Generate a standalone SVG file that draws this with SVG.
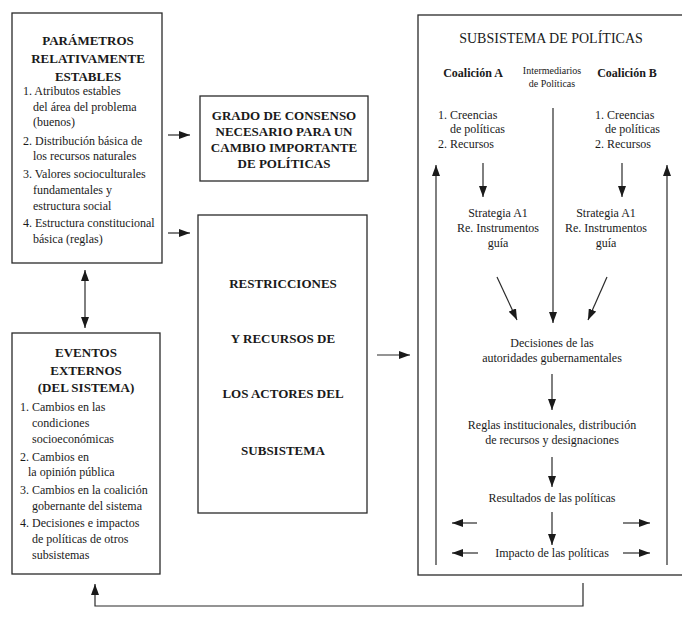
<svg xmlns="http://www.w3.org/2000/svg" width="682" height="632" viewBox="0 0 682 632">
<defs>
<marker id="ah" viewBox="0 0 11 8" refX="11" refY="4" markerWidth="11" markerHeight="8" markerUnits="userSpaceOnUse" orient="auto-start-reverse">
<path d="M0,0 L11,4 L0,8 z" fill="#1a1a1a"/>
</marker>
<style>
.box{fill:#fff;stroke:#2a2a2a;stroke-width:1.3}
.t{font-family:"Liberation Serif","Times New Roman",serif;fill:#1a1a1a}
.h{font-size:13px;font-weight:bold;text-anchor:middle}
.l{font-size:12px}
.m{font-size:12px;text-anchor:middle}
.s{font-size:10px;text-anchor:middle}
.c{stroke:#2a2a2a;stroke-width:1.2;fill:none}
.a{marker-end:url(#ah)}
</style>
</defs>
<rect width="682" height="632" fill="#fff"/>

<g id="parametros">
<rect class="box" x="12" y="13" width="150" height="250"/>
<text class="t h" x="88" y="44.5">PARÁMETROS</text>
<text class="t h" x="88" y="62.5">RELATIVAMENTE</text>
<text class="t h" x="88" y="80.5">ESTABLES</text>
<text class="t l" x="23" y="95">1. Atributos estables</text>
<text class="t l" x="33" y="111">del área del problema</text>
<text class="t l" x="33" y="126">(buenos)</text>
<text class="t l" x="23" y="145">2. Distribución básica de</text>
<text class="t l" x="33" y="160">los recursos naturales</text>
<text class="t l" x="23" y="178">3. Valores socioculturales</text>
<text class="t l" x="33" y="194">fundamentales y</text>
<text class="t l" x="33" y="210">estructura social</text>
<text class="t l" x="23" y="227">4. Estructura constitucional</text>
<text class="t l" x="33" y="243">básica (reglas)</text>
</g>

<g id="eventos">
<rect class="box" x="12" y="333" width="148" height="241"/>
<text class="t h" x="86" y="357">EVENTOS</text>
<text class="t h" x="86" y="375">EXTERNOS</text>
<text class="t h" x="86" y="392">(DEL SISTEMA)</text>
<text class="t l" x="20" y="411">1. Cambios en las</text>
<text class="t l" x="32" y="427">condiciones</text>
<text class="t l" x="32" y="443">socioeconómicas</text>
<text class="t l" x="20" y="461">2. Cambios en</text>
<text class="t l" x="28" y="476">la opinión pública</text>
<text class="t l" x="20" y="494">3. Cambios en la coalición</text>
<text class="t l" x="32" y="510">gobernante del sistema</text>
<text class="t l" x="20" y="527">4. Decisiones e impactos</text>
<text class="t l" x="32" y="543">de políticas de otros</text>
<text class="t l" x="32" y="559">subsistemas</text>
</g>

<g id="grado">
<rect class="box" x="200" y="96" width="168" height="85"/>
<text class="t h" x="284" y="119.5">GRADO DE CONSENSO</text>
<text class="t h" x="284" y="135.5">NECESARIO PARA UN</text>
<text class="t h" x="284" y="151.5">CAMBIO IMPORTANTE</text>
<text class="t h" x="284" y="167.5">DE POLÍTICAS</text>
</g>

<g id="restricciones">
<rect class="box" x="198" y="215" width="169" height="298"/>
<text class="t h" x="283" y="287.5">RESTRICCIONES</text>
<text class="t h" x="283" y="342.5">Y RECURSOS DE</text>
<text class="t h" x="283" y="397.5">LOS ACTORES DEL</text>
<text class="t h" x="283" y="454.5">SUBSISTEMA</text>
</g>

<g id="subsistema">
<rect class="box" x="418" y="15" width="280" height="560"/>
<text class="t" x="551" y="43" font-size="14" text-anchor="middle">SUBSISTEMA DE POLÍTICAS</text>
<text class="t" x="473" y="77" font-size="12" font-weight="bold" text-anchor="middle">Coalición A</text>
<text class="t" x="627" y="77" font-size="12" font-weight="bold" text-anchor="middle">Coalición B</text>
<text class="t s" x="552" y="73.5">Intermediarios</text>
<text class="t s" x="552" y="86.5">de Políticas</text>
<text class="t l" x="438" y="119">1. Creencias</text>
<text class="t l" x="450" y="133">de políticas</text>
<text class="t l" x="438" y="148">2. Recursos</text>
<text class="t l" x="595" y="119">1. Creencias</text>
<text class="t l" x="605" y="133">de políticas</text>
<text class="t l" x="595" y="148">2. Recursos</text>
<text class="t m" x="498" y="217">Strategia A1</text>
<text class="t m" x="498" y="232">Re. Instrumentos</text>
<text class="t m" x="498" y="247">guía</text>
<text class="t m" x="606" y="217">Strategia A1</text>
<text class="t m" x="606" y="232">Re. Instrumentos</text>
<text class="t m" x="606" y="247">guía</text>
<text class="t m" x="552" y="347">Decisiones de las</text>
<text class="t m" x="552" y="362">autoridades gubernamentales</text>
<text class="t m" x="552" y="429">Reglas institucionales, distribución</text>
<text class="t m" x="552" y="444">de recursos y designaciones</text>
<text class="t m" x="552" y="502">Resultados de las políticas</text>
<text class="t m" x="552" y="557">Impacto de las políticas</text>
</g>

<g id="connectors">
<line class="c a" x1="168" y1="135" x2="190" y2="135"/>
<line class="c a" x1="168" y1="233" x2="190" y2="233"/>
<line class="c a" x1="377" y1="355" x2="410" y2="355"/>
<line class="c a" x1="85" y1="270" x2="85" y2="328" marker-start="url(#ah)"/>
<path class="c a" d="M583,583 V606 H95 V584"/>
<line class="c a" x1="553" y1="108" x2="553" y2="323"/>
<line class="c a" x1="436" y1="565" x2="436" y2="165"/>
<line class="c a" x1="667" y1="565" x2="667" y2="165"/>
<line class="c a" x1="483" y1="163" x2="483" y2="197"/>
<line class="c a" x1="622" y1="163" x2="622" y2="197"/>
<line class="c a" x1="497" y1="277" x2="517" y2="320"/>
<line class="c a" x1="607" y1="277" x2="588" y2="320"/>
<line class="c a" x1="552" y1="374" x2="552" y2="410"/>
<line class="c a" x1="552" y1="457" x2="552" y2="487"/>
<line class="c a" x1="552" y1="512" x2="552" y2="545"/>
<line class="c a" x1="477" y1="523" x2="452" y2="523"/>
<line class="c a" x1="478" y1="553" x2="452" y2="553"/>
<line class="c a" x1="623" y1="523" x2="650" y2="523"/>
<line class="c a" x1="623" y1="553" x2="650" y2="553"/>
</g>
</svg>
